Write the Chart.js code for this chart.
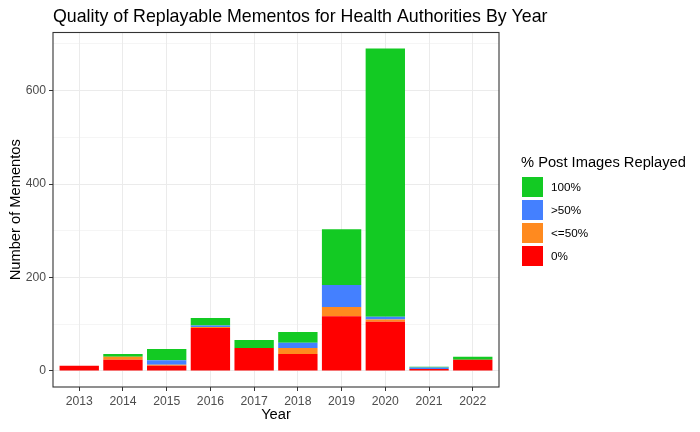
<!DOCTYPE html>
<html>
<head>
<meta charset="utf-8">
<script src="https://cdn.jsdelivr.net/npm/chart.js@4.4.0/dist/chart.umd.min.js"></script>
<style>
  html, body { margin: 0; padding: 0; background: #ffffff; }
  canvas { display: block; }
</style>
</head>
<body>
<canvas id="mementoChart" width="700" height="432"></canvas>
<script>
// Chart data
const years = [2013, 2014, 2015, 2016, 2017, 2018, 2019, 2020, 2021, 2022];
const replayed0 = [11, 24, 11, 92, 49, 36, 117, 105, 4, 24];
const replayedUpTo50 = [0, 6, 2, 2, 0, 13, 20, 5, 0, 0];
const replayedOver50 = [0, 0, 10, 3, 0, 11, 47, 6, 3, 0];
const replayed100 = [0, 6, 24, 16, 17, 23, 119, 574, 2, 6];
const yMajorTicks = [0, 200, 400, 600];
const yMinorTicks = [100, 300, 500, 700];

const chartTitle = 'Quality of Replayable Mementos for Health Authorities By Year';
const legendTitle = '% Post Images Replayed';

const FONT = "'Liberation Sans', Arial, sans-serif";
const GRID = '#EBEBEB';
const DARK = '#333333';

/**
 * Draws the title, the panel border and the legend on the right side
 */
const panelAndLegend = {
  id: 'panelAndLegend',
  afterDraw(chart) {
    const ctx = chart.ctx;
    const area = chart.chartArea;
    ctx.save();

    // Title, left-aligned with the panel
    ctx.fillStyle = '#000000';
    ctx.font = `17.8px ${FONT}`;
    ctx.textBaseline = 'alphabetic';
    ctx.fillText(chartTitle, area.left, 22);

    // Panel border (theme_bw style)
    ctx.strokeStyle = DARK;
    ctx.lineWidth = 1.1;
    ctx.strokeRect(area.left, area.top, area.right - area.left, area.bottom - area.top);

    // Legend
    const x = area.right + 22;
    ctx.font = `14.7px ${FONT}`;
    ctx.fillText(legendTitle, x, 167);

    const items = chart.data.datasets.slice().reverse();
    items.forEach((ds, i) => {
      const top = 177 + i * 23;
      ctx.fillStyle = ds.backgroundColor;
      ctx.fillRect(x + 1, top, 21, 20);
      ctx.fillStyle = '#000000';
      ctx.font = `11.7px ${FONT}`;
      ctx.textBaseline = 'middle';
      ctx.fillText(ds.label, x + 30, top + 10.5);
    });
    ctx.restore();
  }
};

const isMajor = (v) => yMajorTicks.includes(v);

const ctx = document.getElementById('mementoChart').getContext('2d');
const chart = new Chart(ctx, {
  type: 'bar',
  data: {
    labels: years,
    datasets: [
      { label: '0%', data: replayed0, backgroundColor: '#FF0000' },
      { label: '<=50%', data: replayedUpTo50, backgroundColor: '#FF8A1F' },
      { label: '>50%', data: replayedOver50, backgroundColor: '#4480FF' },
      { label: '100%', data: replayed100, backgroundColor: '#13CA23' }
    ]
  },
  options: {
    responsive: false,
    animation: false,
    layout: { padding: { left: 0, right: 201, top: 32.5, bottom: 0 } },
    datasets: {
      bar: {
        barPercentage: 0.9,
        categoryPercentage: 1,
        borderWidth: 0
      }
    },
    plugins: {
      legend: { display: false },
      tooltip: { enabled: false },
      title: { display: false }
    },
    scales: {
      x: {
        type: 'linear',
        stacked: true,
        offset: false,
        min: years[0] - 0.6,
        max: years[years.length - 1] + 0.6,
        afterBuildTicks: (scale) => {
          scale.ticks = years.map(v => ({ value: v }));
        },
        afterFit: (scale) => { scale.height = 45; },
        border: { display: false },
        grid: {
          offset: false,
          color: GRID,
          lineWidth: 1,
          tickColor: DARK,
          tickLength: 4
        },
        ticks: {
          autoSkip: false,
          maxRotation: 0,
          padding: 3,
          color: '#4D4D4D',
          font: { family: FONT, size: 12.2 },
          callback: (v) => String(v)
        },
        title: {
          display: true,
          text: 'Year',
          color: '#000000',
          font: { family: FONT, size: 14.7 },
          padding: { top: 2, bottom: 8 }
        }
      },
      y: {
        stacked: true,
        min: -34.5,
        max: 724.5,
        afterBuildTicks: (scale) => {
          scale.ticks = yMajorTicks.concat(yMinorTicks)
            .sort((a, b) => a - b)
            .map(v => ({ value: v }));
        },
        afterFit: (scale) => { scale.width = 53; },
        border: { display: false },
        grid: {
          color: GRID,
          lineWidth: (c) => (c.tick && isMajor(c.tick.value) ? 1 : 0.5),
          tickColor: (c) => (c.tick && isMajor(c.tick.value) ? DARK : 'rgba(0,0,0,0)'),
          tickLength: 4
        },
        ticks: {
          autoSkip: false,
          padding: 3,
          color: '#4D4D4D',
          font: { family: FONT, size: 12.2 },
          callback: (v) => (isMajor(v) ? String(v) : '')
        },
        title: {
          display: true,
          text: 'Number of Mementos',
          color: '#000000',
          font: { family: FONT, size: 14.7 },
          padding: { top: 7, bottom: 2 }
        }
      }
    }
  },
  plugins: [panelAndLegend]
});
</script>
</body>
</html>
